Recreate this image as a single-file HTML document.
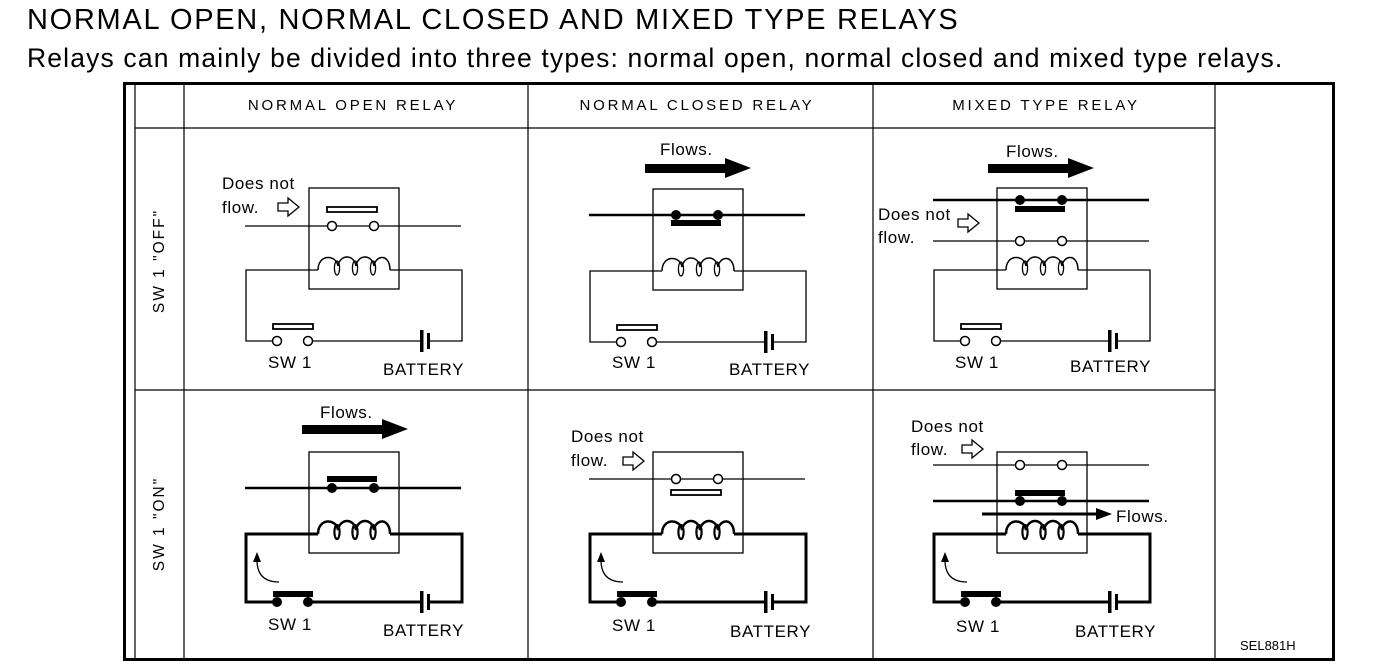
<!DOCTYPE html>
<html><head><meta charset="utf-8"><style>
html,body{margin:0;padding:0;background:#fff;}
body{width:1392px;height:668px;overflow:hidden;position:relative;font-family:"Liberation Sans",Arial,sans-serif;}
.t1{position:absolute;left:27px;top:4px;font-size:29px;color:#000;letter-spacing:1.7px;white-space:nowrap;}
.t2{position:absolute;left:27px;top:43px;font-size:26.5px;color:#000;letter-spacing:1.15px;white-space:nowrap;}
svg{position:absolute;left:0;top:0;}
svg text{font-family:"Liberation Sans",Arial,sans-serif;fill:#000;}
</style></head><body>
<div class="t1">NORMAL OPEN, NORMAL CLOSED AND MIXED TYPE RELAYS</div>
<div class="t2">Relays can mainly be divided into three types: normal open, normal closed and mixed type relays.</div>
<svg id="s" width="1392" height="668" viewBox="0 0 1392 668">
<g stroke="#000" fill="none">
<rect x="124.5" y="83.5" width="1209" height="576" stroke-width="3"/>
<line x1="135" y1="83" x2="135" y2="660" stroke-width="1.2"/>
<line x1="184" y1="83" x2="184" y2="660" stroke-width="1.2"/>
<line x1="528" y1="83" x2="528" y2="660" stroke-width="1.2"/>
<line x1="873" y1="83" x2="873" y2="660" stroke-width="1.2"/>
<line x1="1215" y1="83" x2="1215" y2="660" stroke-width="1.2"/>
<line x1="135" y1="128" x2="1215" y2="128" stroke-width="1.2"/>
<line x1="135" y1="390" x2="1215" y2="390" stroke-width="1.2"/>
</g>
<g font-size="15" text-anchor="middle" letter-spacing="2.8">
<text x="353" y="110">NORMAL OPEN RELAY</text>
<text x="697" y="110">NORMAL CLOSED RELAY</text>
<text x="1046" y="110">MIXED TYPE RELAY</text>
</g>
<g font-size="15.5" text-anchor="middle" letter-spacing="2">
<text transform="translate(164,261) rotate(-90)">SW 1 "OFF"</text>
<text transform="translate(164,524) rotate(-90)">SW 1 "ON"</text>
</g>
<g font-size="17" letter-spacing="0.6">
<text x="222" y="189">Does not</text><text x="222" y="213">flow.</text>
<text x="320" y="418">Flows.</text>
<text x="660" y="155">Flows.</text>
<text x="571" y="442">Does not</text><text x="571" y="466">flow.</text>
<text x="1006" y="157">Flows.</text>
<text x="878" y="220">Does not</text><text x="878" y="243">flow.</text>
<text x="911" y="432">Does not</text><text x="911" y="455">flow.</text>
<text x="1116" y="522">Flows.</text>
<text x="268" y="368">SW 1</text><text x="383" y="375">BATTERY</text>
<text x="268" y="630">SW 1</text><text x="383" y="636">BATTERY</text>
<text x="612" y="368">SW 1</text><text x="729" y="375">BATTERY</text>
<text x="612" y="631">SW 1</text><text x="730" y="637">BATTERY</text>
<text x="955" y="368">SW 1</text><text x="1070" y="372">BATTERY</text>
<text x="956" y="632">SW 1</text><text x="1075" y="637">BATTERY</text>
</g>
<text x="1240" y="650" font-size="13">SEL881H</text>
<g id="g" stroke="#000" fill="none"></g>
</svg>
<script>
var g=document.getElementById('g'),h='';
function L(x1,y1,x2,y2,w){h+='<line x1="'+x1+'" y1="'+y1+'" x2="'+x2+'" y2="'+y2+'" stroke-width="'+(w||1.3)+'"/>';}
function C(x,y,f){h+= f?'<circle cx="'+x+'" cy="'+y+'" r="5" fill="#000" stroke="none"/>':'<circle cx="'+x+'" cy="'+y+'" r="4.5" fill="#fff" stroke-width="1.5"/>';}
function B(x,y,w,f){h+= f?'<rect x="'+x+'" y="'+y+'" width="'+w+'" height="6" fill="#000" stroke="none"/>':'<rect x="'+x+'" y="'+y+'" width="'+w+'" height="5" fill="#fff" stroke-width="1.8"/>';}
function contacts(bx,y,closed,barY){
 var w=closed?2.5:1.3;
 L(bx-64,y,bx+152,y,w);
 if(barY!=null)B(bx+18,barY,50,closed);
 C(bx+23,y,closed);C(bx+65,y,closed);
}
function big(x1,x2,y){h+='<rect x="'+x1+'" y="'+(y-4)+'" width="'+(x2-x1)+'" height="9" fill="#000" stroke="none"/><polygon points="'+x2+','+(y-10)+' '+(x2+26)+','+y+' '+x2+','+(y+10)+'" fill="#000" stroke="none"/>';}
function hol(x,y){h+='<polygon points="'+x+','+(y-4)+' '+(x+10)+','+(y-4)+' '+(x+10)+','+(y-9)+' '+(x+21)+','+y+' '+(x+10)+','+(y+9)+' '+(x+10)+','+(y+4)+' '+x+','+(y+4)+'" fill="#fff" stroke-width="1.3"/>';}
function cell(bx,by,on){
 var cy=by+82,Lx=bx-63,R=bx+153,Bt=by+(on?150:153),w=on?3:1.3,bat=bx+111;
 h+='<rect x="'+bx+'" y="'+by+'" width="90" height="101" stroke-width="1.3"/>';
 var p='M'+(bx+9)+','+cy+' C'+(bx+9)+','+(cy-16)+' '+(bx+27)+','+(cy-16)+' '+(bx+29)+','+(cy-4);
 p+=' C'+(bx+31)+','+(cy-16)+' '+(bx+45)+','+(cy-16)+' '+(bx+47)+','+(cy-4);
 p+=' C'+(bx+49)+','+(cy-16)+' '+(bx+63)+','+(cy-16)+' '+(bx+65)+','+(cy-4);
 p+=' C'+(bx+67)+','+(cy-16)+' '+(bx+81)+','+(cy-16)+' '+(bx+81)+','+cy;
 h+='<path d="'+p+'" stroke-width="'+(on?2.5:1.5)+'"/>';
 [29,47,65].forEach(function(o){h+='<ellipse cx="'+(bx+o-1)+'" cy="'+(cy-2)+'" rx="2.6" ry="7" stroke-width="'+(on?2.2:1.3)+'"/>';});
 h+='<path d="M'+(bx+9)+','+cy+' H'+Lx+' V'+Bt+' H'+(bx-36)+' M'+(bx+3)+','+Bt+' H'+bat+' M'+(bat+10)+','+Bt+' H'+R+' V'+cy+' H'+(bx+81)+'" stroke-width="'+w+'"/>';
 h+='<rect x="'+bat+'" y="'+(Bt-11)+'" width="3.5" height="22" fill="#000" stroke="none"/><rect x="'+(bat+7)+'" y="'+(Bt-8)+'" width="3" height="16" fill="#000" stroke="none"/>';
 if(on){B(bx-36,Bt-11,40,true);C(bx-32,Bt,true);C(bx-1,Bt,true);
  h+='<path d="M'+(Lx+33)+','+(Bt-20)+' Q'+(Lx+11)+','+(Bt-20)+' '+(Lx+11)+','+(Bt-42)+'" stroke-width="1.3"/><polygon points="'+(Lx+7)+','+(Bt-40)+' '+(Lx+11)+','+(Bt-50)+' '+(Lx+15)+','+(Bt-40)+'" fill="#000" stroke="none"/>';
 } else {B(bx-36,Bt-17,40,false);C(bx-32,Bt,false);C(bx-1,Bt,false);}
}
cell(309,188,false);contacts(309,226,false,207);hol(278,207);
cell(309,452,true);contacts(309,488,true,476);big(302,382,429);
cell(653,189,false);contacts(653,215,true,220);big(645,725,168);
cell(653,452,true);contacts(653,479,false,490);hol(623,461);
cell(997,188,false);contacts(997,200,true,206);contacts(997,241,false,null);hol(958,223);big(988,1068,168);
cell(997,452,true);contacts(997,465,false,null);contacts(997,501,true,490);hol(962,449);
h+='<line x1="982" y1="514" x2="1098" y2="514" stroke-width="3"/><polygon points="1096,508 1112,514 1096,520" fill="#000" stroke="none"/>';
g.innerHTML=h;
</script>
</body></html>
